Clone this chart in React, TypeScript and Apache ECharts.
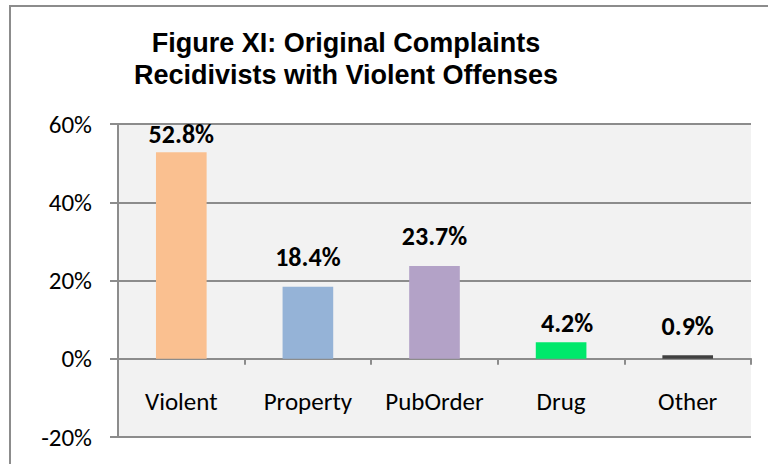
import React, { useEffect, useRef } from "react";
import * as echarts from "echarts";

const categories = ["Violent", "Property", "PubOrder", "Drug", "Other"];
const values = [52.8, 18.4, 23.7, 4.2, 0.9];
const barColors = ["#FAC090", "#95B3D7", "#B3A2C7", "#00E86B", "#404040"];
const labelGaps = [5, 17, 17, 6, 16];
const titleLines = ["Figure XI: Original Complaints", "Recidivists with Violent Offenses"];
const yMin = -20;
const yMax = 60;
const yStep = 20;

export default function App() {
  const ref = useRef<HTMLDivElement>(null);
  useEffect(() => {
    const el = ref.current;
    if (!el) return;
    const chart = echarts.init(el, null, { renderer: "svg" });
    const calibri = "Carlito, Lato, 'Open Sans', sans-serif";
    chart.setOption({
      animation: false,
      backgroundColor: "#ffffff",
      title: {
        text: titleLines.join("\n"),
        left: 341,
        textAlign: "center",
        top: 22,
        textStyle: {
          fontFamily: "'Liberation Sans', Arial, sans-serif",
          fontWeight: "bold",
          fontSize: 27,
          lineHeight: 32,
          color: "#000000",
        },
      },
      graphic: [
        {
          type: "rect",
          shape: { x: 10, y: 6, width: 800, height: 500 },
          style: { fill: "none", stroke: "#8C8C8C", lineWidth: 2 },
          silent: true,
          z: -1,
        },
      ],
      grid: {
        left: 118,
        right: 17,
        top: 124,
        bottom: 27,
        outerBoundsMode: "none",
        containLabel: false,
        show: true,
        backgroundColor: "#F2F2F2",
        borderWidth: 0,
      },
      xAxis: {
        type: "category",
        data: categories,
        axisLine: { show: true, onZero: true, lineStyle: { color: "#8C8C8C", width: 2 } },
        axisTick: { show: true, length: 6, alignWithLabel: false, lineStyle: { color: "#8C8C8C", width: 2 } },
        axisLabel: {
          interval: 0,
          hideOverlap: false,
          margin: -48,
          fontFamily: calibri,
          fontSize: 25,
          color: "#000000",
        },
      },
      yAxis: {
        type: "value",
        min: yMin,
        max: yMax,
        interval: yStep,
        axisLine: { show: true, lineStyle: { color: "#8C8C8C", width: 2 } },
        axisTick: { show: true, length: 8, lineStyle: { color: "#8C8C8C", width: 2 } },
        splitLine: { show: true, lineStyle: { color: "#8C8C8C", width: 2 } },
        axisLabel: {
          margin: 26,
          fontFamily: calibri,
          fontSize: 25,
          color: "#000000",
          formatter: (v: number) => `${v}%`,
        },
      },
      series: [
        {
          type: "bar",
          barWidth: "40%",
          data: values.map((v, i) => ({
            value: v,
            itemStyle: { color: barColors[i] },
            label: { distance: labelGaps[i], offset: i === 3 ? [6, 0] : [0, 0] },
          })),
          label: {
            show: true,
            position: "top",
            fontFamily: calibri,
            fontWeight: "bold",
            fontSize: 26,
            color: "#000000",
            formatter: (p: any) => `${p.value.toFixed(1)}%`,
          },
          z: 3,
        },
      ],
    });
    return () => chart.dispose();
  }, []);
  return <div ref={ref} style={{ width: 768, height: 464, position: "fixed", left: 0, top: 0 }} />;
}
